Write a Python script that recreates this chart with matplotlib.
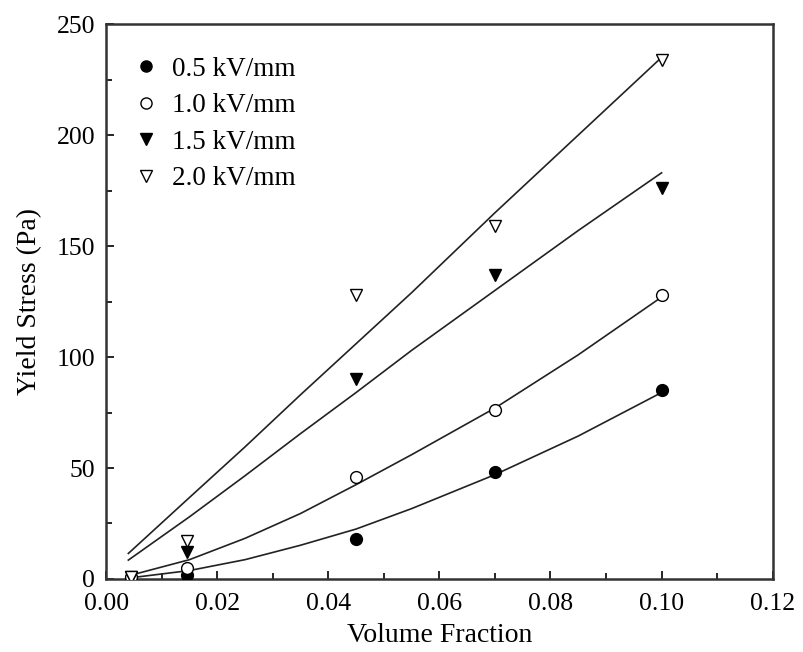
import numpy as np
import matplotlib.pyplot as plt
from matplotlib.lines import Line2D
from matplotlib.ticker import MultipleLocator

plt.rcParams['font.family'] = ['Liberation Serif', 'DejaVu Serif']

# measured points
vol_frac = [0.0045, 0.0145, 0.045, 0.07, 0.1]
stress_05 = [0.5, 2, 18, 48, 85]
stress_10 = [1, 5, 46, 76, 128]
stress_15 = [1, 12, 90, 137, 176]
stress_20 = [1, 17, 128, 159, 234]

# fitted curves
fit_x = [0.004, 0.015, 0.025, 0.035, 0.045, 0.055, 0.07, 0.085, 0.1]
fit_05 = [0.4, 3.8, 8.7, 15.2, 22.5, 31.7, 47, 64.4, 84]
fit_10 = [1.4, 8.7, 18.3, 29.5, 42.5, 56, 77, 101, 127]
fit_15 = [8.5, 28, 46.5, 65.5, 84, 103, 130, 157, 183]
fit_20 = [11.5, 36.7, 59.5, 83, 106, 129, 165, 200, 235]

labels = ["0.5 kV/mm", "1.0 kV/mm", "1.5 kV/mm", "2.0 kV/mm"]
markers = ["o", "o", "v", "v"]
fills = ["black", "white", "black", "white"]

fig = plt.figure(figsize=(8.04, 6.52), dpi=100)
ax = fig.add_axes([0.132, 0.112, 0.829, 0.851])

for fy in [fit_05, fit_10, fit_15, fit_20]:
    ax.plot(fit_x, fy, color="#222222", lw=1.2, zorder=2)

handles = []
for sy, m, fc, lab in zip([stress_05, stress_10, stress_15, stress_20], markers, fills, labels):
    ax.plot(vol_frac, sy, linestyle="none", marker=m, markersize=8.5,
            markerfacecolor=fc, markeredgecolor="black", markeredgewidth=1.0, zorder=3)
    handles.append(Line2D([], [], linestyle="none", marker=m, markersize=8,
                          markerfacecolor=fc, markeredgecolor="black", label=lab))

ax.set_xlim(0, 0.12)
ax.set_ylim(0, 250)
ax.xaxis.set_major_locator(MultipleLocator(0.02))
ax.xaxis.set_minor_locator(MultipleLocator(0.01))
ax.yaxis.set_major_locator(MultipleLocator(50))
ax.yaxis.set_minor_locator(MultipleLocator(25))
ax.xaxis.set_major_formatter(lambda v, p: f"{v:.2f}")
ax.tick_params(which="both", direction="in", top=False, right=False, labelsize=18.5, width=1.2)
ax.tick_params(which="major", length=6)
ax.tick_params(which="minor", length=4)
ax.tick_params(axis="x", pad=10)
ax.tick_params(axis="y", pad=8)
for s in ax.spines.values():
    s.set_linewidth(1.8)
    s.set_color("#333333")

ax.set_xlabel("Volume Fraction", fontsize=20, labelpad=6)
ax.set_ylabel("Yield Stress (Pa)", fontsize=20, labelpad=10)

ax.legend(handles=handles, loc="upper left", frameon=False, fontsize=19.5,
          handlelength=1.55, handletextpad=0.18, labelspacing=0.42, borderaxespad=0.3,
          bbox_to_anchor=(0.0, 0.975))

fig.savefig("out.png", dpi=100)
